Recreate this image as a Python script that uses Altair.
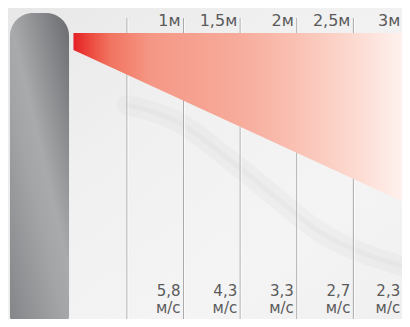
import altair as alt
import pandas as pd

# ---- data ----
distances = [1.0, 1.5, 2.0, 2.5, 3.0]              # metres (vertical guide lines)
distance_labels = ["1м", "1,5м", "2м", "2,5м", "3м"]
speeds = ["5,8", "4,3", "3,3", "2,7", "2,3"]         # air speed at each distance
speed_unit = "м/с"
label_anchor = [1.5, 2.0, 2.5, 3.0, 3.44]           # labels sit at the end of each segment

jet_x = [0.527, 3.5]          # air jet (triangle) start / end, metres
jet_top = [2.581, 2.581]      # upper edge height
jet_bottom = [2.431, 1.071]   # lower edge height

device_x = [-0.034, 0.488]    # the curtain unit (grey pill)
device_top = [2.756]
device_bottom = [0.0]

vein_x = [1.0, 1.45, 1.910, 2.396, 2.703, 3.014, 3.5]
vein_y = [1.95, 1.80, 1.466, 1.071, 0.834, 0.676, 0.518]

W, H = 394, 311
xs = alt.Scale(domain=[0, 3.5], range=[5.8, 402], nice=False, zero=False)
ys = alt.Scale(domain=[0, 2.8], range=[319, 0], nice=False, zero=False)

FONT = "DejaVu Sans"
TXT = "#5a5a5a"

bg_df = pd.DataFrame({"x": [-0.06], "x2": [3.6], "y": [0.0], "y2": [2.9]})
background = alt.Chart(bg_df).mark_rect(
    color=alt.Gradient(gradient="linear", x1=0, y1=0, x2=1, y2=1,
                       stops=[alt.GradientStop(offset=0, color="#e7e7e7"),
                              alt.GradientStop(offset=0.35, color="#f0f0f0"),
                              alt.GradientStop(offset=0.7, color="#f4f4f4"),
                              alt.GradientStop(offset=1, color="#efefef")])
).encode(
    x=alt.X("x:Q", scale=xs, axis=None), x2="x2:Q",
    y=alt.Y("y:Q", scale=ys, axis=None), y2="y2:Q",
)

vein_df = pd.DataFrame({"x": vein_x, "y": vein_y, "o": list(range(len(vein_x)))})
vein_wide = alt.Chart(vein_df).mark_line(
    color="#dadada", strokeWidth=20, opacity=0.25, interpolate="monotone", strokeCap="round"
).encode(x=alt.X("x:Q", scale=xs, axis=None), y=alt.Y("y:Q", scale=ys, axis=None), order="o:Q")
vein_thin = alt.Chart(vein_df).mark_line(
    color="#d4d4d4", strokeWidth=5, opacity=0.22, interpolate="monotone", strokeCap="round"
).encode(x=alt.X("x:Q", scale=xs, axis=None), y=alt.Y("y:Q", scale=ys, axis=None), order="o:Q")

dev_df = pd.DataFrame({"x": [device_x[0]], "x2": [device_x[1]],
                       "y": device_top, "y2": device_bottom})
device = alt.Chart(dev_df).mark_rect(
    cornerRadiusTopLeft=23, cornerRadiusTopRight=23,
    cornerRadiusBottomLeft=11, cornerRadiusBottomRight=11,
    color=alt.Gradient(gradient="linear", x1=0.9, y1=0, x2=0.1, y2=1,
                       stops=[alt.GradientStop(offset=0, color="#6f7174"),
                              alt.GradientStop(offset=0.45, color="#a9aaac"),
                              alt.GradientStop(offset=0.6, color="#a3a4a6"),
                              alt.GradientStop(offset=1, color="#87888b")])
).encode(
    x=alt.X("x:Q", scale=xs, axis=None), x2="x2:Q",
    y=alt.Y("y:Q", scale=ys, axis=None), y2="y2:Q",
)

lines_df = pd.DataFrame({"x": distances})
rules = alt.Chart(lines_df).mark_rule(color="#a4a4a4", strokeWidth=1).encode(
    x=alt.X("x:Q", scale=xs, axis=None),
    y=alt.datum(2.712, scale=ys, axis=None), y2=alt.datum(0.0),
)
rules_hi = alt.Chart(lines_df).mark_rule(color="#ffffff", strokeWidth=1, opacity=0.8, xOffset=1).encode(
    x=alt.X("x:Q", scale=xs, axis=None),
    y=alt.datum(2.712, scale=ys, axis=None), y2=alt.datum(0.0),
)

jet_df = pd.DataFrame({"x": jet_x, "top": jet_top, "bottom": jet_bottom})
jet = alt.Chart(jet_df).mark_area(
    color=alt.Gradient(gradient="linear", x1=0, y1=0, x2=1, y2=0,
                       stops=[alt.GradientStop(offset=0, color="#e51f27"),
                              alt.GradientStop(offset=0.05, color="#ec4a3e"),
                              alt.GradientStop(offset=0.11, color="#f17460"),
                              alt.GradientStop(offset=0.23, color="#f59785"),
                              alt.GradientStop(offset=0.5, color="#f7ac9c"),
                              alt.GradientStop(offset=0.68, color="#fac3b6"),
                              alt.GradientStop(offset=0.83, color="#fcd9cf"),
                              alt.GradientStop(offset=1, color="#fff5f2")]),
    interpolate="linear",
).encode(
    x=alt.X("x:Q", scale=xs, axis=None),
    y=alt.Y("top:Q", scale=ys, axis=None), y2="bottom:Q",
)

lab_df = pd.DataFrame({"x": label_anchor, "label": distance_labels,
                       "speed": [s + "\n" + speed_unit for s in speeds]})
top_labels = alt.Chart(lab_df).mark_text(
    align="right", baseline="alphabetic", dx=-3, font=FONT, fontSize=16, color=TXT
).encode(x=alt.X("x:Q", scale=xs, axis=None), y=alt.datum(2.639, scale=ys, axis=None), text="label:N")

speed_labels = alt.Chart(lab_df).mark_text(
    align="right", baseline="alphabetic", dx=-3, font=FONT, fontSize=15, lineHeight=17,
    lineBreak="\n", color=TXT
).encode(x=alt.X("x:Q", scale=xs, axis=None), y=alt.datum(0.272, scale=ys, axis=None), text="speed:N")

chart = alt.layer(
    background, vein_wide, vein_thin, device, rules, rules_hi, jet,
    top_labels, speed_labels
).properties(
    width=W, height=H, padding=0,
    autosize=alt.AutoSizeParams(type="none"),
    background="#eeeeee",
).configure_view(stroke=None)

chart.save("out.html", embed_options={"renderer": "svg", "actions": False})
